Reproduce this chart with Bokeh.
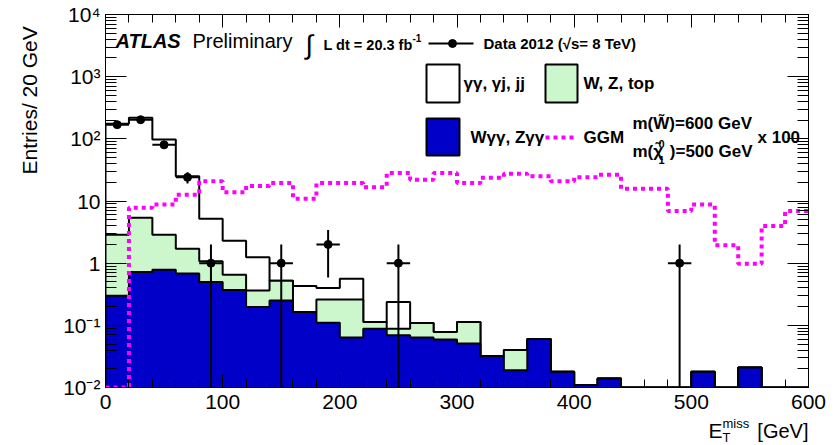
import numpy as np
from bokeh.plotting import figure
from bokeh.models import LinearAxis, LogAxis, FixedTicker, CustomJSTickFormatter, Label, Range1d
from bokeh.layouts import column, row
from bokeh.embed import file_html
from bokeh.resources import INLINE

# ---------------- data (20 GeV bins, 0-600 GeV) ----------------
bin_edges = list(range(0, 620, 20))
wgg_zgg = [0.30, 0.72, 0.78, 0.68, 0.50, 0.37, 0.197, 0.25, 0.164, 0.11,
           0.064, 0.0885, 0.069, 0.064, 0.059, 0.051, 0.032, 0.019, 0.060, 0.018,
           0.011, 0.014, 0, 0, 0, 0.018, 0, 0.021, 0, 0]
w_z_top = [2.57, 4.68, 2.09, 1.03, 0.57, 0.28, 0.168, 0.27, 0, 0.15,
           0.196, 0.0245, 0.0195, 0.045, 0.019, 0.062, 0, 0.021, 0, 0,
           0, 0, 0, 0, 0, 0, 0, 0, 0, 0]
gg_gj_jj = [172, 213, 95, 23.3, 4.1, 1.65, 0.885, 0, 0.266, 0.14,
            0.30, 0, 0.1485, 0, 0, 0, 0, 0, 0, 0,
            0, 0, 0, 0, 0, 0, 0, 0, 0, 0]
ggm_x100 = [0, 7.8, 8.8, 12.6, 20.7, 13.8, 17.5, 19.4, 10.9, 19.4,
            19.4, 16.7, 28.3, 22.0, 28.3, 19.5, 23.7, 27.4, 25.0, 20.8,
            24.2, 26.5, 15.8, 15.8, 6.9, 8.8, 1.95, 0.98, 3.95, 6.9]
data_2012 = [169, 203, 80, 24, 1, 0, 0, 1, 0, 2,
             0, 0, 1, 0, 0, 0, 0, 0, 0, 0,
             0, 0, 0, 0, 1, 0, 0, 0, 0, 0]
x_tick_labels = [0, 100, 200, 300, 400, 500, 600]

YMIN, YMAX = 1e-2, 1e4
FONT = "Liberation Sans"

# ---------------- geometry (pixels of the whole page) ----------------
W, H = 835, 445
STRIP_L = 55          # left strip holding the y title
FL, FR, FT, FB = 105, 808, 14, 387
BOT_BORDER = 27
PH = FB + BOT_BORDER  # main figure height
STRIP_B = H - PH      # bottom strip holding the x title


def px_x(px):
    return (px - FL) / (FR - FL) * 600.0


def px_y(py):
    return 10 ** (np.log10(YMAX) - (py - FT) / (FB - FT) * (np.log10(YMAX) - np.log10(YMIN)))


p = figure(width=W - STRIP_L, height=PH, x_range=(0, 600), y_range=(YMIN, YMAX),
           y_axis_type="log", output_backend="svg", toolbar_location=None,
           min_border_left=FL - STRIP_L, min_border_right=W - FR, min_border_top=FT,
           min_border_bottom=BOT_BORDER)
p.xgrid.visible = False
p.ygrid.visible = False
p.outline_line_color = "black"
p.outline_line_width = 1
p.background_fill_color = "white"
p.border_fill_color = "white"

edges = np.array(bin_edges, dtype=float)
blue = np.array(wgg_zgg, dtype=float)
mid = blue + np.array(w_z_top, dtype=float)
tot = mid + np.array(gg_gj_jj, dtype=float)


def step_poly(vals, floor_line=YMIN, floor_fill=1e-3):
    v = np.maximum(np.asarray(vals, dtype=float), floor_line)
    xs = np.repeat(edges, 2)
    ys = np.concatenate([[floor_fill], np.repeat(v, 2), [floor_fill]])
    return xs, ys


for vals, col in [(tot, "white"), (mid, "#ccf7cc"), (blue, "#0000c8")]:
    xs, ys = step_poly(vals)
    p.patch(xs, ys, fill_color=col, line_color=None)
    p.line(xs, ys, line_color="black", line_width=2)

# GGM signal x100 (dotted magenta)
gx, gy = step_poly(ggm_x100)
p.line(gx[1:-1], gy[1:-1], line_color="#ff00ff", line_width=4, line_dash="4 4")

# data points
cnt = np.array(data_2012, dtype=float)
centers = (edges[:-1] + edges[1:]) / 2
half = (edges[1:] - edges[:-1]) / 2
m = cnt > 0
dx, dy, hw = centers[m], cnt[m], half[m]
err = np.sqrt(dy)
p.segment(dx, np.maximum(dy - err, 1e-3), dx, dy + err, line_color="black", line_width=2)
p.segment(dx - hw, dy, dx + hw, dy, line_color="black", line_width=2)
p.scatter(dx, dy, size=8, color="black")

# ---------------- axes ----------------
x_major = [float(v) for v in x_tick_labels]
x_minor = list(range(0, 620, 20))
y_major = [10.0 ** e for e in range(-2, 5)]
y_minor = [k * 10.0 ** e for e in range(-2, 4) for k in range(2, 10)]

fmt_log = CustomJSTickFormatter(code="""
const e = Math.round(Math.log10(tick));
const sup = {"-":"\u207b","0":"\u2070","1":"\u00b9","2":"\u00b2","3":"\u00b3","4":"\u2074","5":"\u2075"};
if (e == 0) return "1";
if (e == 1) return "10";
return "10" + String(e).split("").map(c => sup[c]).join("");
""")
blank = CustomJSTickFormatter(code="return '';")


def style_axis(ax, major_len, minor_len):
    ax.major_tick_in = major_len
    ax.major_tick_out = 0
    ax.minor_tick_in = minor_len
    ax.minor_tick_out = 0
    ax.axis_line_color = "black"
    ax.axis_line_width = 1
    ax.major_tick_line_color = "black"
    ax.minor_tick_line_color = "black"
    ax.major_label_text_font = FONT
    ax.major_label_text_font_size = "21px"
    ax.major_label_text_color = "black"


xa = p.xaxis[0]
xa.ticker = FixedTicker(ticks=x_major, minor_ticks=x_minor)
xa.formatter = CustomJSTickFormatter(code="return String(Math.round(tick));")
style_axis(xa, 13, 8)
xa.major_label_standoff = 7

ya = p.yaxis[0]
ya.ticker = FixedTicker(ticks=y_major, minor_ticks=y_minor)
ya.formatter = fmt_log
style_axis(ya, 21, 11)
ya.major_label_standoff = 5

top = LinearAxis(ticker=FixedTicker(ticks=x_major, minor_ticks=x_minor), formatter=blank)
style_axis(top, 13, 8)
top.major_label_standoff = 0
p.add_layout(top, "above")

right = LogAxis(ticker=FixedTicker(ticks=y_major, minor_ticks=y_minor), formatter=blank)
style_axis(right, 21, 11)
right.major_label_standoff = 0
p.add_layout(right, "right")


# ---------------- texts inside the frame ----------------
def lab(fig, x, y, text, size, style="normal", align="left", angle=0.0, color="black"):
    fig.add_layout(Label(x=x, y=y, text=text, text_font=FONT,
                         text_font_size=f"{size}px", text_font_style=style,
                         text_align=align, text_baseline="middle", angle=angle,
                         text_color=color))


def plab(px, py, text, size, **kw):
    lab(p, px_x(px), px_y(py), text, size, **kw)


plab(115, 40, "ATLAS", 20, style="bold italic")
plab(192, 40, "Preliminary", 20)
plab(305, 44, "\u222b", 27)
plab(323, 44, "L dt = 20.3 fb", 14.5, style="bold")
plab(412, 37, "-1", 10, style="bold")

# data legend entry
lx0, lx1, ly = px_x(428), px_x(473), px_y(43)
p.segment([lx0], [ly], [lx1], [ly], line_color="black", line_width=2)
p.scatter([px_x(452)], [ly], size=8, color="black")
plab(483, 43, "Data 2012 (\u221as= 8 TeV)", 15, style="bold")


def box(x0, x1, y0, y1, col):
    p.quad(left=[px_x(x0)], right=[px_x(x1)], top=[px_y(y0)], bottom=[px_y(y1)],
           fill_color=col, line_color="black", line_width=2)


box(426, 459, 64, 102, "white")
plab(463, 83, "\u03b3\u03b3,  \u03b3j, jj", 17, style="bold")
box(545, 577, 64, 102, "#ccf7cc")
plab(583, 83, "W, Z, top", 17, style="bold")
box(426, 459, 118, 155, "#0000c8")
plab(470, 137, "W\u03b3\u03b3, Z\u03b3\u03b3", 17, style="bold")
p.line([px_x(545), px_x(577)], [px_y(137), px_y(137)], line_color="#ff00ff",
       line_width=4, line_dash="4 4")
plab(583, 137, "GGM", 17, style="bold")
plab(632, 123, "m(W\u0303)=600 GeV", 17, style="bold")
plab(632, 151, "m(\u03c7\u0303", 17, style="bold")
plab(658, 143, "0", 11, style="bold")
plab(658, 159, "1", 11, style="bold")
plab(752, 151, ")=500 GeV", 17, style="bold", align="right")
plab(757, 137, "x 100", 17, style="bold")


# ---------------- strips for the axis titles ----------------
def strip(w, h):
    f = figure(width=w, height=h, x_range=Range1d(0, w), y_range=Range1d(h, 0),
               x_axis_type=None, y_axis_type=None, output_backend="svg",
               toolbar_location=None, min_border=0)
    f.grid.visible = False
    f.outline_line_color = None
    f.border_fill_color = "white"
    f.background_fill_color = "white"
    return f


ys_fig = strip(STRIP_L, PH)
lab(ys_fig, 29, 13, "Entries/ 20 GeV", 21, angle=np.pi / 2, align="right")

xs_fig = strip(W, STRIP_B)
oy = PH
lab(xs_fig, 708, 430 - oy, "E", 21)
lab(xs_fig, 722, 423 - oy, "miss", 13)
lab(xs_fig, 722, 437 - oy, "T", 13)
lab(xs_fig, 808, 430 - oy, "[GeV]", 20, align="right")

layout = column(row(ys_fig, p, spacing=0), xs_fig, spacing=0)
open("out.html", "w").write(file_html(layout, INLINE))
